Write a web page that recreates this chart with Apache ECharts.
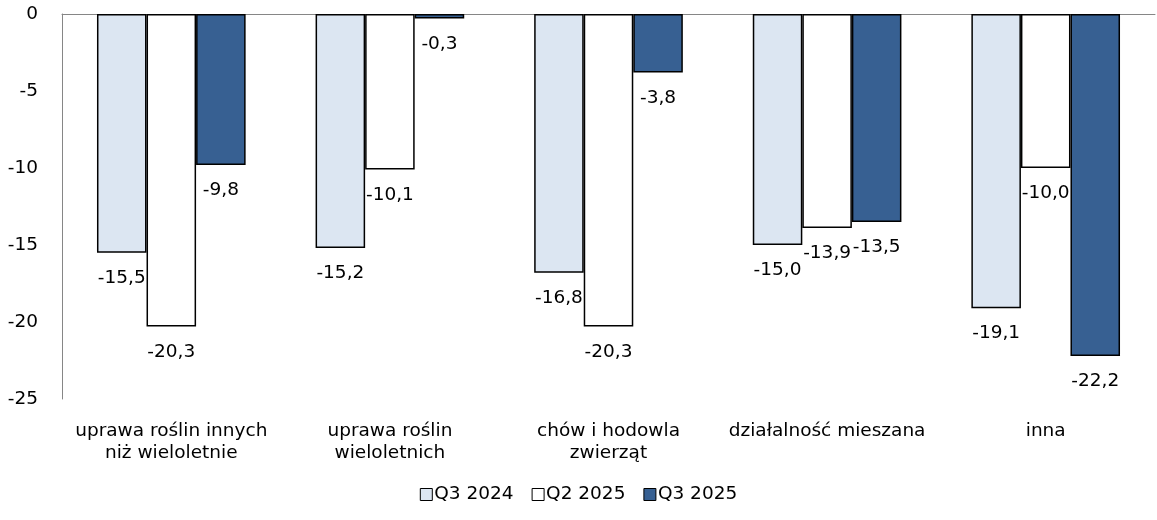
<!DOCTYPE html>
<html>
<head>
<meta charset="utf-8">
<script src="https://cdn.jsdelivr.net/npm/echarts@6/dist/echarts.min.js"></script>
<style>html,body{margin:0;padding:0;background:#fff}#c{width:1157px;height:520px}</style>
</head>
<body>
<div id="c"></div>
<script>
const categories = ["uprawa roślin innych\nniż wieloletnie", "uprawa roślin\nwieloletnich", "chów i hodowla\nzwierząt", "działalność mieszana", "inna"];
const seriesNames = ["Q3 2024", "Q2 2025", "Q3 2025"];
const q3_2024 = [-15.5, -15.2, -16.8, -15.0, -19.1];
const q2_2025 = [-20.3, -10.1, -20.3, -13.9, -10.0];
const q3_2025 = [-9.8, -0.3, -3.8, -13.5, -22.2];
const colors = ["#DCE6F2", "#FFFFFF", "#376092"];
const FONT = "DejaVu Sans";
const FS = 18.5;

const chart = echarts.init(document.getElementById('c'), null, {renderer: 'canvas'});
const mk = (name, data, color) => ({
  name: name, type: 'bar', data: data, xAxisIndex: 0,
  barGap: '0%', barCategoryGap: '32%',
  itemStyle: {color: color, borderColor: '#000', borderWidth: 1.5},
  label: {show: true, position: 'bottom', distance: 16, color: '#000', fontFamily: FONT, fontSize: FS,
    formatter: p => p.value.toFixed(1).replace('.', ',')},
  animation: false
});
chart.setOption({
  animation: false,
  textStyle: {fontFamily: FONT},
  grid: {left: 62, right: 2, top: 14, bottom: 121, containLabel: false},
  legend: {
    bottom: 11, left: 'center', itemWidth: 12, itemHeight: 12, itemGap: 18,
    icon: 'rect',
    textStyle: {fontFamily: FONT, fontSize: FS, color: '#000', padding: [0, 0, 0, -3]},
    itemStyle: {borderColor: '#000', borderWidth: 1},
    data: seriesNames
  },
  xAxis: [
    {type: 'category', data: categories, position: 'bottom',
      axisLine: {show: false}, axisTick: {show: false},
      axisLabel: {color: '#000', fontFamily: FONT, fontSize: FS, lineHeight: 22, margin: 21, interval: 0}},
    {type: 'category', data: categories, position: 'top',
      axisLine: {show: true, onZero: false, lineStyle: {color: '#868686', width: 1}}, axisTick: {show: false},
      axisLabel: {show: false}}
  ],
  yAxis: {
    type: 'value', min: -25, max: 0, interval: 5,
    axisLine: {show: true, lineStyle: {color: '#868686', width: 1}},
    axisTick: {show: false}, splitLine: {show: false},
    axisLabel: {color: '#000', fontFamily: FONT, fontSize: FS, margin: 24}
  },
  series: [mk(seriesNames[0], q3_2024, colors[0]), mk(seriesNames[1], q2_2025, colors[1]), mk(seriesNames[2], q3_2025, colors[2])]
});
</script>
</body>
</html>
